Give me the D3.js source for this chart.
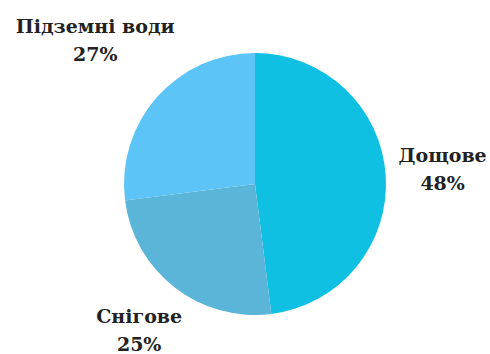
<!DOCTYPE html>
<html lang="uk">
<head>
<meta charset="UTF-8">
<title>Pie</title>
<script src="https://cdn.jsdelivr.net/npm/d3@7"></script>
<style>
  body { margin: 0; background: #fff; }
  text { font-family: "DejaVu Serif", serif; font-weight: bold; fill: #222; }
</style>
</head>
<body>
<script>
    // дані
    var categories = ["Дощове", "Снігове", "Підземні води"];
    var values = [48, 25, 27];
    var colors = ["#10c0e3", "#5ab5d8", "#5cc4f6"];

    // розміри
    var width = 490, height = 354;
    var cx = 255, cy = 184, r = 131;
    var labelDist = [188, 189, 213]; // відстань підписів від центру
    var fontSize = 19;

    var svg = d3.select("body").append("svg")
        .attr("width", width)
        .attr("height", height);

    var g = svg.append("g").attr("transform", "translate(" + cx + "," + cy + ")");

    var pie = d3.pie().sort(null).value(function (d) { return d; });
    var arcs = pie(values);
    var arc = d3.arc().innerRadius(0).outerRadius(r);

    g.selectAll("path")
        .data(arcs)
        .enter()
        .append("path")
        .attr("d", arc)
        .attr("fill", function (d, i) { return colors[i]; });

    // підписи
    var labels = g.selectAll("g.lbl")
        .data(arcs)
        .enter()
        .append("g")
        .attr("class", "lbl")
        .attr("transform", function (d, i) {
            var a = (d.startAngle + d.endAngle) / 2;
            var x = Math.sin(a) * labelDist[i];
            var y = -Math.cos(a) * labelDist[i];
            return "translate(" + x + "," + y + ")";
        });

    labels.append("text")
        .attr("text-anchor", "middle")
        .attr("y", -10)
        .style("font-size", fontSize + "px")
        .text(function (d, i) { return categories[i]; });

    labels.append("text")
        .attr("text-anchor", "middle")
        .attr("y", 18)
        .style("font-size", fontSize + "px")
        .text(function (d) { return d.data + "%"; });
</script>
</body>
</html>
